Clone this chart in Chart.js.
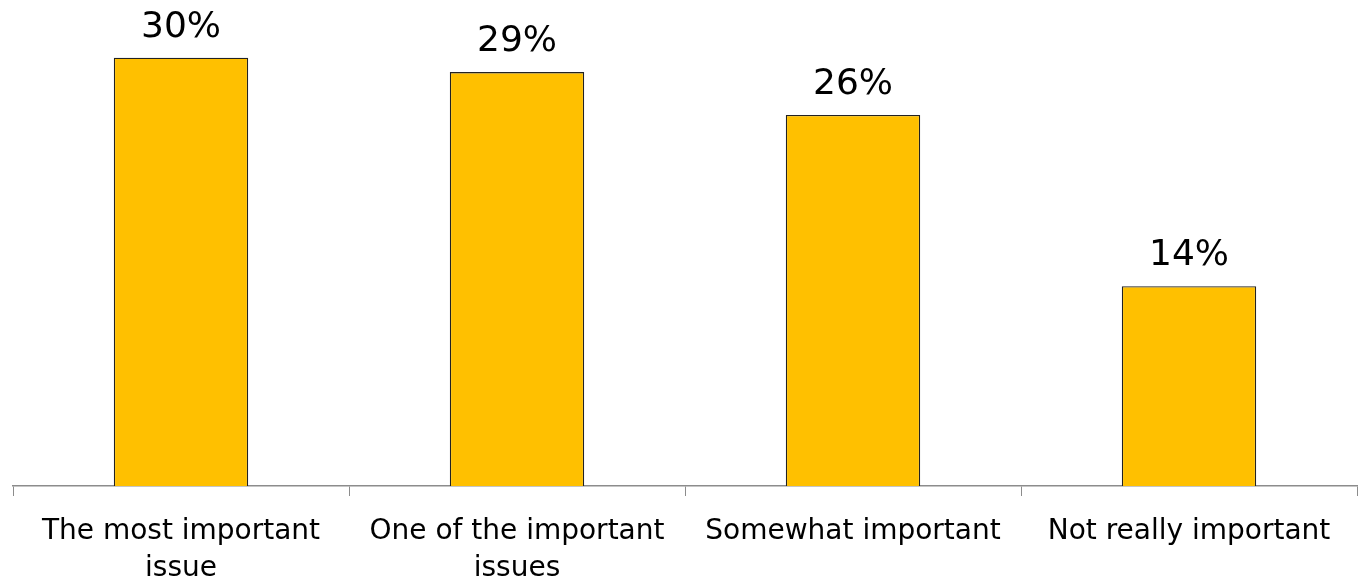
<!DOCTYPE html>
<html>
<head>
<meta charset="utf-8">
<script src="https://cdn.jsdelivr.net/npm/chart.js@4"></script>
<style>
  html, body { margin: 0; padding: 0; background: #fff; }
  #wrap { width: 1361px; height: 586px; }
</style>
</head>
<body>
<div id="wrap"><canvas id="chart"></canvas></div>
<script>
const categories = [
  ["The most important", "issue"],
  ["One of the important", "issues"],
  "Somewhat important",
  "Not really important"
];
const shares = [30, 29, 26, 14];
const valueLabels = ["30%", "29%", "26%", "14%"];

const FONT = "'DejaVu Sans', sans-serif";

// draws the value above each bar
const topLabels = {
  id: "topLabels",
  afterDatasetsDraw(chart) {
    const c = chart.ctx;
    const meta = chart.getDatasetMeta(0);
    c.save();
    c.font = "36px " + FONT;
    c.fillStyle = "#000";
    c.textAlign = "center";
    c.textBaseline = "alphabetic";
    meta.data.forEach((bar, i) => {
      const p = bar.getProps(["x", "y"], true);
      c.fillText(valueLabels[i], p.x, p.y - 21);
    });
    c.restore();
  }
};

new Chart(document.getElementById("chart"), {
  type: "bar",
  data: {
    labels: categories,
    datasets: [{
      data: shares,
      backgroundColor: "#FFC000",
      borderColor: "#222",
      borderWidth: 1.3,
      borderSkipped: "bottom",
      categoryPercentage: 1,
      barPercentage: 0.4
    }]
  },
  options: {
    responsive: true,
    maintainAspectRatio: false,
    animation: false,
    layout: { padding: { top: 15, left: 13, right: 4, bottom: 0 } },
    plugins: { legend: { display: false }, tooltip: { enabled: false } },
    scales: {
      x: {
        offset: true,
        grid: {
          offset: true,
          drawOnChartArea: false,
          color: "#8c8c8c",
          tickLength: 10
        },
        border: { color: "#8c8c8c", width: 1.5 },
        ticks: {
          color: "#000",
          font: { family: FONT, size: 28, lineHeight: 1.3 },
          padding: 18,
          maxRotation: 0,
          autoSkip: false
        },
        afterFit(scale) { scale.height = 100; }
      },
      y: {
        display: false,
        min: 0,
        max: 33
      }
    }
  },
  plugins: [topLabels]
});
</script>
</body>
</html>
